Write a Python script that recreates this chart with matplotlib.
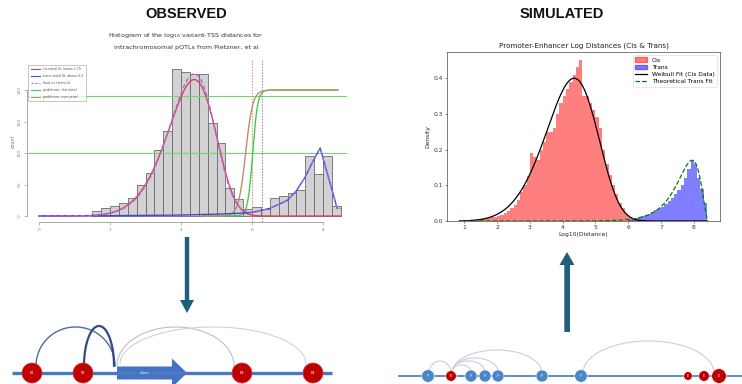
import numpy as np
import matplotlib
matplotlib.use("Agg")
import matplotlib.pyplot as plt
from matplotlib.lines import Line2D
from matplotlib.patches import Patch

# ---------------- data ----------------
# Observed pQTL log10 variant-TSS distances (counts per 0.25 bin)
obs_bin_start = 1.5
obs_bin_width = 0.25
obs_counts = [8, 12, 16, 21, 28, 50, 68, 104, 135, 233, 229, 226, 226,
              148, 116, 44, 27, 11, 14, 11, 28, 32, 36, 41, 96, 67, 96, 16]

# initial / final fits (Weibull parameters on the log10 scale, in counts)
cis_fit_shape, cis_fit_scale, cis_fit_amp = 7.0, 4.47, 372.0
final_fit_shape, final_fit_scale, final_fit_amp = 7.3, 4.46, 368.0
trans_fit_x = [0.0, 2.0, 4.0, 5.0, 5.5, 6.0, 6.5, 7.0, 7.25, 7.5, 7.7, 7.92, 8.4]
trans_fit_y = [0.0, 0.5, 1.5, 3.0, 4.0, 5.5, 12.0, 25.0, 40.0, 62.0, 85.0, 108.0, 12.0]
prob_this_mid, prob_this_slope = 6.02, 0.07
prob_prior_mid, prob_prior_slope = 5.82, 0.10
prob_scale = 200.0
ref_levels = [100, 190]
cutoffs = [6.0, 6.27]

# Simulated promoter-enhancer distances (density per bin)
cis_bin_start, cis_bin_width = 0.9, 0.1
cis_density = [0.001, 0.001, 0.002, 0.002, 0.003, 0.004, 0.005, 0.006, 0.008, 0.010, 0.012,
               0.015, 0.018, 0.022, 0.028, 0.035,
               0.045, 0.060, 0.080, 0.100, 0.125,
               0.190, 0.180, 0.170, 0.200, 0.220,
               0.250, 0.250, 0.260, 0.300, 0.330,
               0.350, 0.370, 0.390, 0.410, 0.430,
               0.450, 0.350, 0.350, 0.330, 0.310,
               0.290, 0.260, 0.200, 0.160, 0.130,
               0.100, 0.075, 0.050, 0.035, 0.020,
               0.012, 0.006, 0.003]
trans_bin_start, trans_bin_width = 6.0, 0.1
trans_density = [0.004, 0.006, 0.008, 0.010, 0.013, 0.016, 0.020, 0.025, 0.030, 0.035,
                 0.040, 0.048, 0.055, 0.065, 0.075, 0.088, 0.100, 0.120, 0.145, 0.170,
                 0.160, 0.120, 0.090, 0.050]
weibull_shape, weibull_scale, cis_fraction = 6.0, 4.484, 0.8
trans_max_log, trans_a, trans_b, trans_peak = 8.45, 1.0, 2.16, 0.17

# ---------------- helpers ----------------
W, H = 742, 384
fig = plt.figure(figsize=(W / 100, H / 100), dpi=100)
fig.patch.set_facecolor("white")


def px_axes(l, t, r, b, **kw):
    return fig.add_axes([l / W, 1 - b / H, (r - l) / W, (b - t) / H], **kw)


def weibull_pdf(x, k, lam):
    x = np.clip(x, 1e-9, None)
    z = x / lam
    return (k / lam) * z ** (k - 1) * np.exp(-z ** k)


def logistic(x, mid, s):
    return 1.0 / (1.0 + np.exp(-(x - mid) / s))


def trans_model(x):
    u = np.clip(10.0 ** (x - trans_max_log), 0, 1)
    f = u ** trans_a * (1 - u) ** trans_b
    u0 = trans_a / (trans_a + trans_b)
    return trans_peak * f / (u0 ** trans_a * (1 - u0) ** trans_b)


# ---------------- observed histogram (R style) ----------------
axL = px_axes(27, 60, 347, 222)
x0_px, ppu = 39.0, 35.5
axL.set_xlim((27 - x0_px) / ppu, (347 - x0_px) / ppu)
cnt_px = 0.63
axL.set_ylim((216 - 222) / cnt_px, (216 - 60) / cnt_px)

edges = obs_bin_start + obs_bin_width * np.arange(len(obs_counts))
axL.bar(edges, obs_counts, width=obs_bin_width, align="edge",
        color="#d2d2d2", edgecolor="#6b6b6b", linewidth=0.6, zorder=2)

for lv in ref_levels:
    axL.axhline(lv, color="#6fd86f", lw=0.8, zorder=3)
axL.axvline(cutoffs[0], color="#e08080", lw=0.7, ls=(0, (1.5, 1.5)), zorder=3)
axL.axvline(cutoffs[1], color="#8080e0", lw=0.7, ls=(0, (1.5, 1.5)), zorder=3)

xs = np.linspace(0.0, 8.5, 600)
axL.plot(xs, cis_fit_amp * weibull_pdf(xs, cis_fit_shape, cis_fit_scale),
         color="#e0405a", lw=1.0, zorder=5)
axL.plot(trans_fit_x, trans_fit_y, color="#4848d8", lw=1.0, zorder=5)
final = final_fit_amp * weibull_pdf(xs, final_fit_shape, final_fit_scale) \
    + np.interp(xs, trans_fit_x, trans_fit_y)
axL.plot(xs, final, color="#a070e0", lw=1.0, ls=(0, (3, 2)), zorder=6)

xp = np.linspace(4.6, 8.42, 300)
axL.plot(xp, prob_scale * logistic(xp, prob_this_mid, prob_this_slope),
         color="#40d040", lw=1.0, zorder=4)
axL.plot(xp, prob_scale * logistic(xp, prob_prior_mid, prob_prior_slope),
         color="#b89070", lw=1.0, zorder=4)

for s in ["top", "right"]:
    axL.spines[s].set_visible(False)
axL.spines["left"].set_bounds(0, 200)
axL.spines["bottom"].set_bounds(0, 8)
for s in ["left", "bottom"]:
    axL.spines[s].set_color("#9a9a9a")
    axL.spines[s].set_linewidth(0.6)
axL.set_xticks([0, 2, 4, 6, 8])
axL.set_yticks([0, 50, 100, 150, 200])
axL.tick_params(colors="#9a9a9a", labelcolor="#8a8a8a", labelsize=3.2,
                length=2.5, width=0.5, pad=1.5)
for lbl in axL.get_yticklabels():
    lbl.set_rotation(90)
    lbl.set_va("center")
axL.set_ylabel("count", fontsize=3.4, color="#7a7a7a", labelpad=1.5)

handles = [Line2D([], [], color="#e0405a", lw=0.8),
           Line2D([], [], color="#4848d8", lw=0.8),
           Line2D([], [], color="#a070e0", lw=0.8, ls=(0, (2, 1.5))),
           Line2D([], [], color="#40d040", lw=0.8),
           Line2D([], [], color="#b89070", lw=0.8)]
labels = ["cis initial fit, below 5.75", "trans initial fit, above 6.3",
          "final cis+trans fit", "prob(trans, this data)", "prob(trans, over prior)"]
legL = axL.legend(handles, labels, loc="upper left", bbox_to_anchor=(0.003, 0.97),
                  fontsize=2.3, frameon=True, fancybox=False, edgecolor="#9a9a9a",
                  handlelength=3.0, labelspacing=0.9, borderpad=0.8,
                  handletextpad=1.0, borderaxespad=0)
legL.get_frame().set_linewidth(0.5)
legL.set_zorder(8)
for t in legL.get_texts():
    t.set_color("#555555")

# ---------------- simulated histogram ----------------
axR = px_axes(447, 52, 720, 221)
c_edges = cis_bin_start + cis_bin_width * np.arange(len(cis_density))
t_edges = trans_bin_start + trans_bin_width * np.arange(len(trans_density))
axR.bar(c_edges, cis_density, width=cis_bin_width, align="edge",
        color="red", alpha=0.5, linewidth=0)
axR.bar(t_edges, trans_density, width=trans_bin_width, align="edge",
        color="blue", alpha=0.5, linewidth=0)
xw = np.linspace(0.85, 8.42, 600)
axR.plot(xw, cis_fraction * weibull_pdf(xw, weibull_shape, weibull_scale),
         color="black", lw=0.9)
axR.plot(xw, trans_model(xw), color="green", lw=0.9, ls="--")
axR.set_xlim(0.47, 8.8)
axR.set_ylim(0, 0.473)
axR.set_xticks([1, 2, 3, 4, 5, 6, 7, 8])
axR.set_yticks([0.0, 0.1, 0.2, 0.3, 0.4])
axR.tick_params(labelsize=4.3, length=1.6, width=0.4, pad=1.2, colors="#333333")
for s in axR.spines.values():
    s.set_linewidth(0.45)
    s.set_color("#333333")
axR.set_title("Promoter-Enhancer Log Distances (Cis & Trans)", fontsize=5.2,
              pad=3, color="#222222")
axR.set_xlabel("Log10(Distance)", fontsize=4.3, labelpad=1.5, color="#222222")
axR.set_ylabel("Density", fontsize=4.3, labelpad=2, color="#222222")
r_handles = [Patch(color="red", alpha=0.5), Patch(color="blue", alpha=0.5),
             Line2D([], [], color="black", lw=0.9),
             Line2D([], [], color="green", lw=0.9, ls="--")]
r_labels = ["Cis", "Trans", "Weibull Fit (Cis Data)", "Theoretical Trans Fit"]
legR = axR.legend(r_handles, r_labels, loc="upper right", fontsize=4.3,
                  frameon=True, fancybox=True, handlelength=2.0, borderpad=0.4,
                  labelspacing=0.35)
legR.get_frame().set_linewidth(0.4)

# ---------------- overlay: headings, arrows, diagrams ----------------
ov = fig.add_axes([0, 0, 1, 1], zorder=-1)
ov.set_xlim(0, W)
ov.set_ylim(H, 0)
ov.axis("off")

ov.text(186, 14, "OBSERVED", ha="center", va="center", fontsize=10.5,
        fontweight="bold", family="Liberation Sans", color="#111111")
ov.text(562, 14, "SIMULATED", ha="center", va="center", fontsize=10.5,
        fontweight="bold", family="Liberation Sans", color="#111111")
ov.text(186, 36, r"Histogram of the log$_{10}$ variant-TSS distances for",
        ha="center", va="center", fontsize=4.6, color="#333333")
ov.text(186, 47, "intrachromosomal pQTLs from Pietzner, et al",
        ha="center", va="center", fontsize=4.6, color="#333333")

arrow_col = "#1d5f7c"
ov.fill([184.8, 189.2, 189.2, 194, 187, 180, 184.8],
        [237, 237, 300, 300, 313, 300, 300], color=arrow_col, lw=0)
ov.fill([564.3, 570, 570, 574.5, 567, 559.5, 564.3],
        [332, 332, 265, 265, 252, 265, 265], color=arrow_col, lw=0)


def arc(x1, x2, top, base, color, lw, alpha=1.0):
    t = np.linspace(0, np.pi, 80)
    cx, a = (x1 + x2) / 2, (x2 - x1) / 2
    ov.plot(cx - a * np.cos(t), base - (base - top) * np.sin(t),
            color=color, lw=lw, alpha=alpha, solid_capstyle="round")


# left genomic diagram
ov.plot([12, 332], [373, 373], color="#4a78c2", lw=2.4, solid_capstyle="butt")
arc(117, 234, 327, 366, "#b8c0cc", 0.8)
arc(120, 306, 327, 364, "#ccd2dc", 0.8)
arc(36, 115, 327, 366, "#4f6b99", 1.0)
arc(84, 114, 326, 366, "#2e4c86", 1.6)
ov.fill([117, 172, 172, 187, 172, 172, 117], [366.5, 366.5, 358.5, 373, 387.5, 379.5, 379.5],
        color="#4472c4", lw=0)
ov.text(145, 373, "Gene", ha="center", va="center", fontsize=2.6, color="white")
for cx, lab in [(32, "E1"), (83, "E2"), (242, "E3"), (313, "E4")]:
    ov.add_patch(plt.Circle((cx, 373), 10, color="#c00000", ec="#d84040", lw=0.5, zorder=4))
    ov.text(cx, 373, lab, ha="center", va="center", fontsize=2.6, color="white", zorder=5)

# right genomic diagram
ov.plot([399, 742], [376, 376], color="#5b8bd0", lw=1.4)
arc_col = "#c8cfdb"
arc(429, 451, 361, 373, arc_col, 0.8)
arc(452, 471, 365, 372, arc_col, 0.8)
arc(452, 485, 361, 372, arc_col, 0.8)
arc(452, 498, 358, 372, arc_col, 0.8)
arc(452, 542, 350, 373, arc_col, 0.8)
arc(583, 714, 341, 373, arc_col, 0.8)
nodes = [(428, 6.3, "P"), (451, 5.3, "E"), (471, 6.0, "P"), (485, 6.0, "P"),
         (498, 6.0, "P"), (542, 6.0, "P"), (581, 6.3, "P"), (688, 4.3, "E"),
         (704, 5.3, "E"), (719, 7.3, "E")]
for cx, r, lab in nodes:
    col = "#4a86c8" if lab == "P" else "#c00000"
    ov.add_patch(plt.Circle((cx, 376), r, color=col, ec="white", lw=0.4, zorder=4))
    ov.text(cx, 376, lab, ha="center", va="center", fontsize=2.4, color="white", zorder=5)

fig.savefig("out.png", dpi=100, facecolor="white")
